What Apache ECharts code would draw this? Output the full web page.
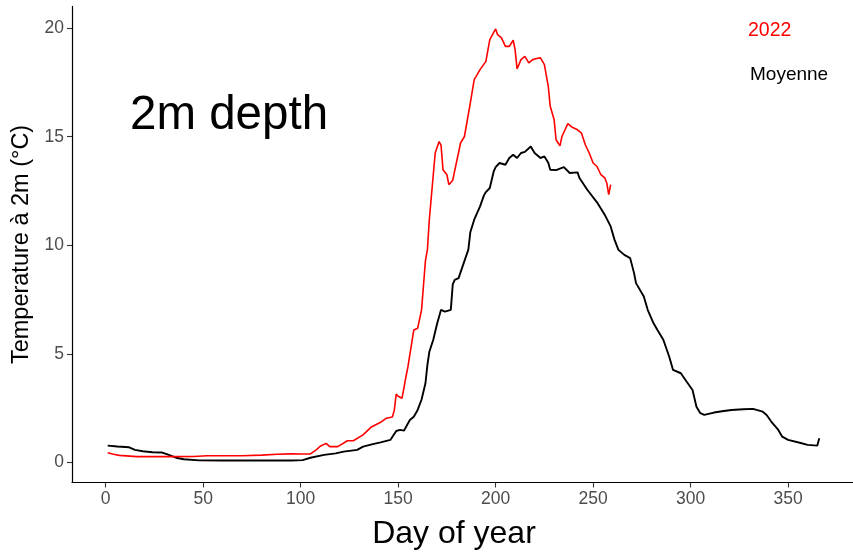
<!DOCTYPE html>
<html>
<head>
<meta charset="utf-8">
<script src="https://cdn.jsdelivr.net/npm/echarts@6/dist/echarts.min.js"></script>
<style>html,body{margin:0;padding:0;background:#fff}#c{width:853px;height:555px}</style>
</head>
<body>
<div id="c"></div>
<script>
// Data
const xTicks = [0, 50, 100, 150, 200, 250, 300, 350];
const yTicks = [0, 5, 10, 15, 20];

const moyDays = [1,6,12,15,19,24,29,32,36,40,48,60,80,95,101,105,112,118,122,129,132,137,141,146,149,151,153,156,158,160,162,164,165,166,168,170,172,174,175,177,178,179,181,183,186,187,189,192,194,195,197,199,200,202,205,207,209,211,213,215,218,220,223,225,227,228,231,235,238,242,243,247,252,256,259,261,263,266,269,271,272,276,278,281,283,284,286,289,291,295,298,301,303,305,307,312,317,321,327,332,337,339,342,345,347,350,356,360,365,366];
const moyTemp = [0.78,0.74,0.70,0.58,0.52,0.47,0.46,0.36,0.22,0.15,0.10,0.09,0.09,0.09,0.11,0.22,0.35,0.42,0.50,0.58,0.73,0.85,0.93,1.04,1.45,1.50,1.47,1.96,2.11,2.42,2.90,3.65,4.50,5.10,5.65,6.40,7.03,6.95,6.88,7.03,8.20,8.41,8.49,9.02,9.80,10.60,11.18,11.79,12.30,12.45,12.64,13.40,13.60,13.79,13.71,14.02,14.17,14.02,14.25,14.30,14.55,14.25,14.02,14.09,13.80,13.48,13.46,13.60,13.33,13.36,13.10,12.56,11.98,11.40,10.87,10.25,9.79,9.56,9.41,8.72,8.26,7.64,7.03,6.41,6.10,6.10,5.65,4.88,4.26,4.11,3.72,3.34,2.57,2.27,2.19,2.30,2.37,2.42,2.45,2.47,2.34,2.19,1.81,1.50,1.19,1.04,0.91,0.81,0.78,1.12];

const y2022Days = [1,4,7,16,33,45,52,70,80,88,95,101,105,108,110,113,115,119,124,127,132,136,141,144,147,148,149,150,152,154,155,158,160,161,162,164,165,166,169,171,172,173,175,176,178,182,184,187,189,190,192,195,196,197,200,201,203,205,207,209,210,211,212,213,215,217,219,221,223,225,226,227,228,230,231,233,234,236,237,239,242,244,246,248,250,252,254,256,257,258,259];
const y2022Temp = [0.45,0.38,0.33,0.27,0.27,0.28,0.31,0.31,0.34,0.38,0.40,0.39,0.40,0.58,0.75,0.88,0.73,0.73,1.00,1.00,1.27,1.62,1.85,2.04,2.10,2.40,3.15,3.05,2.96,3.95,4.40,6.10,6.18,6.18,7.03,9.30,9.80,11.20,14.25,14.78,14.60,13.48,13.25,12.79,13.00,14.71,15.01,16.55,17.63,17.78,18.09,18.47,18.50,19.47,19.96,19.70,19.55,19.16,19.16,19.44,19.00,18.12,18.15,18.55,18.70,18.40,18.55,18.60,18.63,18.32,18.25,17.32,16.40,15.78,14.86,14.58,15.01,15.40,15.60,15.45,15.32,15.17,14.63,14.25,13.79,13.63,13.25,13.10,12.87,12.33,12.79];

const zip = (a, b) => a.map((d, i) => [d, b[i]]);
const FONT = 'Liberation Sans, Arial, sans-serif';

const chart = echarts.init(document.getElementById('c'), null, {renderer: 'canvas'});
chart.setOption({
  animation: false,
  backgroundColor: '#ffffff',
  grid: {left: 72, right: 0, top: 6.4, bottom: 72.5, containLabel: false, outerBoundsMode: 'none'},
  xAxis: {
    type: 'value', min: -17.3, max: 383.3,
    name: 'Day of year', nameLocation: 'middle', nameGap: 36,
    nameTextStyle: {fontFamily: FONT, fontSize: 32, color: '#000', padding: [0, 17, 0, 0]},
    axisLine: {onZero: false, lineStyle: {color: '#000', width: 1.2}},
    axisTick: {show: true, customValues: xTicks, length: 5, lineStyle: {color: '#333', width: 1.1}},
    axisLabel: {customValues: xTicks, fontFamily: FONT, fontSize: 17.5, color: '#4d4d4d', margin: 8},
    splitLine: {show: false}
  },
  yAxis: {
    type: 'value', min: -0.92, max: 21.0,
    name: 'Temperature à 2m (°C)', nameLocation: 'middle', nameGap: 38, nameRotate: 90,
    nameTextStyle: {fontFamily: FONT, fontSize: 23.5, color: '#000'},
    axisLine: {onZero: false, lineStyle: {color: '#000', width: 1.2}},
    axisTick: {show: true, customValues: yTicks, length: 5, lineStyle: {color: '#333', width: 1.1}},
    axisLabel: {customValues: yTicks, fontFamily: FONT, fontSize: 17.5, color: '#4d4d4d', margin: 8},
    splitLine: {show: false}
  },
  series: [
    {name: 'Moyenne', type: 'line', data: zip(moyDays, moyTemp), showSymbol: false,
     lineStyle: {color: '#000000', width: 1.9}, z: 2},
    {name: '2022', type: 'line', data: zip(y2022Days, y2022Temp), showSymbol: false,
     lineStyle: {color: '#ff0000', width: 1.6}, z: 3}
  ],
  graphic: [
    {type: 'text', left: 130, top: 92, style: {text: '2m depth', font: '47.5px ' + FONT, fill: '#000'}},
    {type: 'text', left: 748, top: 21, style: {text: '2022', font: '19.5px ' + FONT, fill: '#ff0000'}},
    {type: 'text', left: 750, top: 65, style: {text: 'Moyenne', font: '19px ' + FONT, fill: '#000'}}
  ]
});
</script>
</body>
</html>
